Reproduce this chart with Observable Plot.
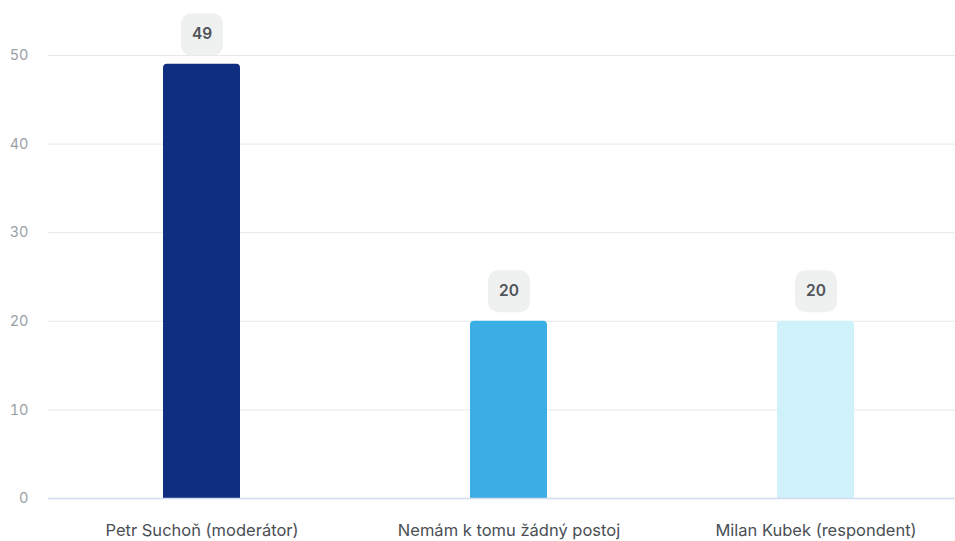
<!DOCTYPE html>
<html><head><meta charset="utf-8">
<script src="https://cdn.jsdelivr.net/npm/d3@7"></script>
<script src="https://cdn.jsdelivr.net/npm/@observablehq/plot@0.6"></script>
<style>
html,body{margin:0;padding:0;background:#fff;overflow:hidden}
svg{font-family:Inter,"Noto Sans",sans-serif}
</style></head>
<body><div id="chart"></div>
<script>
const categories = ["Petr Suchoň (moderátor)", "Nemám k tomu žádný postoj", "Milan Kubek (respondent)"];
const values = [49, 20, 20];
const colors = ["#102E80", "#3AAEE5", "#CFF1FA"];
const yTicks = [0, 10, 20, 30, 40, 50];

const data = categories.map((c, i) => ({category: c, value: values[i], color: colors[i]}));

const roundSquare = {
  draw(context, size) {
    const r = Math.sqrt(size / Math.PI);
    const c = 10;
    context.moveTo(-r + c, -r);
    context.arcTo(r, -r, r, r, c);
    context.arcTo(r, r, -r, r, c);
    context.arcTo(-r, r, -r, -r, c);
    context.arcTo(-r, -r, r, -r, c);
    context.closePath();
  }
};

const chart = Plot.plot({
  width: 955,
  height: 541,
  marginLeft: 48,
  marginRight: 0,
  marginTop: 55,
  marginBottom: 43,
  style: {fontFamily: "Inter, 'Noto Sans', sans-serif", background: "#fff"},
  x: {domain: categories, range: [48, 969], paddingInner: 0.75, paddingOuter: 0.375, label: null, tickSize: 0, tickPadding: 26},
  y: {domain: [0, 50], ticks: yTicks, label: null, tickSize: 0, tickPadding: 20},
  marks: [
    Plot.ruleY(yTicks.filter(d => d > 0), {stroke: "#e6e8ea", strokeWidth: 1}),
    Plot.barY(data, {x: "category", y: "value", fill: "color", rx: 4, insetBottom: -8, clip: true}),
    Plot.ruleY([0], {stroke: "#d3dcef", strokeWidth: 1.5}),
    Plot.dot(data, {x: "category", y: "value", dy: -30, r: 21, symbol: roundSquare, fill: "#eff0f0", stroke: "none"}),
    Plot.text(data, {x: "category", y: "value", dy: -30, text: d => String(d.value), fill: "#50555b", fontSize: 15.5, fontWeight: 600})
  ]
});

d3.select(chart).selectAll('g[aria-label="y-axis tick label"]').attr("fill", "#9aa0a6").attr("font-size", 14.5);
d3.select(chart).selectAll('g[aria-label="x-axis tick label"]').attr("fill", "#4a4f55").attr("font-size", 16.5);
document.getElementById("chart").appendChild(chart);
</script></body></html>
